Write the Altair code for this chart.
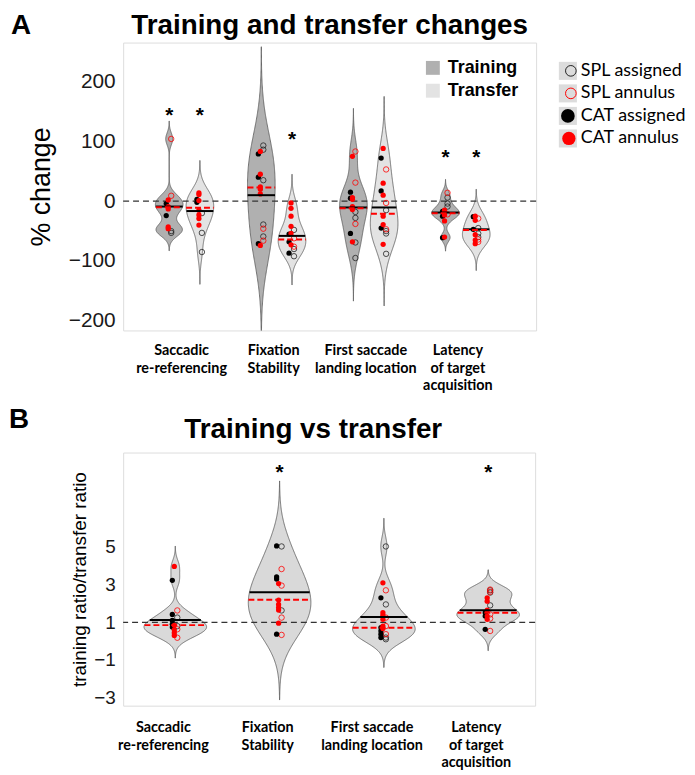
import altair as alt
import numpy as np
import pandas as pd

# ---------------- data ----------------
CATEGORIES = ["Saccadic\nre-referencing", "Fixation\nStability",
              "First saccade\nlanding location", "Latency\nof target\nacquisition"]
POINT_TYPES = ["SPL assigned", "SPL annulus", "CAT assigned", "CAT annulus"]

# Panel A: 8 violins (Training, Transfer) x 4 categories
A_KINDS = ["Training", "Transfer"] * 4
A_POS = [1, 2, 4, 5, 7, 8, 10, 11]
A_CENTERS = [1.5, 4.5, 7.5, 10.5]
A_SPL_ASSIGNED = [[-50, -53], [-20, -53, -85], [93, 86, 35, -39, -59], [-48, -80, -92],
                  [-18, -28, -69, -95], [-15, -50, -54, -88], [6, -4, -9], [-45, -54, -60]]
A_SPL_ANNULUS = [[104, 9], [], [-46, -66], [-62, -76],
                 [83, 31, -38], [53, -3, -47], [14, -22], [-29, -64, -68]]
A_CAT_ASSIGNED = [[-4, -24], [3, -2], [79, 40, -71], [-55, -68, -87],
                  [15, 5, -54], [72, 17, -45], [-17, -25, -61], [-26, -47]]
A_CAT_ANNULUS = [[2, -9, -13, -43, -46], [14, 11, 1, -15, -23, -29, -40],
                 [83, 45, 24, 20, 12, -74], [-3, -12, -25, -42, -54, -73],
                 [75, 6, 3, -9, -14, -68], [88, 30, 10, -25, -39, -72],
                 [-15, -19, -23, -33, -60], [-25, -32, -56, -65, -71]]
A_MEANS = [-9, -16.5, 10, -58, -10.5, -10.5, -19, -47]
A_MEDIANS = [-10, -11, 23, -64, -12, -21, -20, -48]
A_BANDWIDTH = [10, 18, 55, 16, 24, 29, 7.5, 15]   # kernel bandwidth of each violin
A_STAR_VIOLINS = [0, 1, 3, 6, 7]
A_STAR_Y = [146, 146, 106, 76, 76]
A_YTICKS = [-200, -100, 0, 100, 200]
A_REF = [0]

# Panel B: ratio training/transfer, 4 violins
B_KINDS = ["Ratio"] * 4
B_POS = [1, 2, 3, 4]
B_SPL_ASSIGNED = [[1.25, 0.8], [5.03, 1.63], [5.03, 1.95, 0.19, 0.1], [2.7, 2.58, 1.9]]
B_SPL_ANNULUS = [[1.63, 0.63, 0.18], [3.83, 2.95, 1.25, 0.33],
                 [2.7, 1.25, 0.8, 0.37], [2.74, 2.62, 1.42, 1.2, 0.54]]
B_CAT_ASSIGNED = [[3.23, 1.42, 1.1, 0.9, 0.75], [5.06, 3.41, 3.3, 0.37],
                  [2.3, 0.72, 0.54, 0.37, 0.19], [1.51, 1.33, 0.63]]
B_CAT_ANNULUS = [[3.97, 0.84, 0.6, 0.45, 0.3], [3.06, 2.18, 1.95, 1.78, 1.65, 0.95],
                 [3.1, 1.51, 1.37, 1.16, 0.8, 0.67], [2.3, 2.12, 1.65, 1.33, 1.16]]
B_MEANS = [1.12, 2.6, 1.28, 1.64]
B_MEDIANS = [0.85, 2.2, 0.71, 1.51]
B_BANDWIDTH = [0.36, 1.15, 0.5, 0.35]
B_STAR_VIOLINS = [1, 3]
B_STAR_Y = [9.04, 9.04]
B_YTICKS = [-3, -1, 1, 3, 5]
B_REF = [1]

FILLS = {"Training": "#b0b0b0", "Transfer": "#e3e3e3", "Ratio": "#d9d9d9"}


def kde(vals, bw):
    v = np.asarray(vals, dtype=float)
    grid = np.linspace(v.min() - 3 * bw, v.max() + 3 * bw, 260)
    f = np.exp(-0.5 * ((grid[:, None] - v[None, :]) / bw) ** 2).sum(axis=1)
    return grid, f / f.max()


def frames(pos, groups, means, medians, kinds, bws, W):
    vrows, prows, mrows = [], [], []
    for k, p in enumerate(pos):
        allv = []
        for t, lists in zip(POINT_TYPES, groups):
            for val in lists[k]:
                prows.append({"vid": k, "x": p, "v": val, "type": t})
                allv.append(val)
        grid, f = kde(allv, bws[k])
        for g, fv in zip(grid, f):
            vrows.append({"vid": k, "fillc": FILLS[kinds[k]], "v": g,
                          "xl": p - W * fv, "xr": p + W * fv})
        for stat, val in (("mean", means[k]), ("median", medians[k])):
            hw = W * float(np.interp(val, grid, f))
            mrows.append({"vid": k, "stat": stat, "v": val, "xl": p - hw, "xr": p + hw})
    return pd.DataFrame(vrows), pd.DataFrame(prows), pd.DataFrame(mrows)


def panel(pos, groups, means, medians, kinds, bws, W, xdom, ydom, yticks, ref,
          star_v, star_y, centers, Wpx, H, ytitle, yax, title, letter,
          title_y, title_dx, letter_x, letter_y, label_dx, label_y):
    vdf, pdf, mdf = frames(pos, groups, means, medians, kinds, bws, W)
    xs = alt.Scale(domain=xdom, nice=False, zero=False)
    ys = alt.Scale(domain=ydom, nice=False, zero=False)
    axis = alt.Axis(values=yticks, title=ytitle, ticks=False, domain=False, grid=False,
                    labelFontSize=yax["lfs"], labelPadding=8, labelColor="#1a1a1a",
                    labelFont="Liberation Sans", titleFont="Liberation Sans",
                    titleFontSize=yax["tfs"], titleFontWeight="normal", titleColor="black",
                    titleX=yax["tx"], titleY=H / 2, titleAngle=270,
                    titleBaseline="middle", titleAlign="center")
    vio = alt.Chart(vdf).mark_area(orient="horizontal", stroke="#5a5a5a",
                                   strokeWidth=0.8, clip=True, opacity=1).encode(
        y=alt.Y("v:Q", scale=ys, axis=axis),
        x=alt.X("xl:Q", scale=xs, axis=None, stack=None),
        x2="xr:Q",
        fill=alt.Fill("fillc:N", scale=None, legend=None),
        detail="vid:N")
    zero = alt.Chart(pd.DataFrame({"v": ref})).mark_rule(
        color="#333333", strokeWidth=1.2, strokeDash=[6, 4]).encode(
        y=alt.Y("v:Q", scale=ys))
    layers = [vio, zero]
    pstyles = {
        "SPL assigned": dict(type="point", shape="circle", filled=False, stroke="#222222",
                             strokeWidth=0.8, size=30, xOffset=2, opacity=1),
        "SPL annulus": dict(type="point", shape="circle", filled=False, stroke="#ff0000",
                            strokeWidth=0.8, size=30, xOffset=2, opacity=1),
        "CAT assigned": dict(type="circle", color="black", size=28, xOffset=-3, opacity=1),
        "CAT annulus": dict(type="circle", color="#ff0000", size=28, xOffset=-1, opacity=1),
    }
    for t in POINT_TYPES:
        layers.append(alt.Chart(pdf[pdf["type"] == t], mark=alt.MarkDef(**pstyles[t])).encode(
            x=alt.X("x:Q", scale=xs), y=alt.Y("v:Q", scale=ys)))
    layers.append(alt.Chart(mdf[mdf["stat"] == "mean"]).mark_rule(
        color="black", strokeWidth=2).encode(
        y=alt.Y("v:Q", scale=ys), x=alt.X("xl:Q", scale=xs), x2="xr:Q"))
    layers.append(alt.Chart(mdf[mdf["stat"] == "median"]).mark_rule(
        color="#ff0000", strokeWidth=2, strokeDash=[6, 3]).encode(
        y=alt.Y("v:Q", scale=ys), x=alt.X("xl:Q", scale=xs), x2="xr:Q"))
    sdf = pd.DataFrame({"x": [pos[i] for i in star_v], "v": star_y})
    layers.append(alt.Chart(sdf).mark_text(text="*", fontSize=21, fontWeight="bold",
                                           font="Liberation Sans", dy=2, color="black").encode(
        x=alt.X("x:Q", scale=xs), y=alt.Y("v:Q", scale=ys)))
    ldf = pd.DataFrame({"cat": CATEGORIES, "x": centers})
    layers.append(alt.Chart(ldf).mark_text(lineBreak="\n", baseline="top", align="center",
                                           font="Lato", fontWeight="bold", fontSize=14.5,
                                           lineHeight=17.5, dx=label_dx, color="black").encode(
        x=alt.X("x:Q", scale=xs), y=alt.value(label_y), text="cat:N"))
    layers.append(alt.Chart(pd.DataFrame({"t": [title]})).mark_text(
        font="Liberation Sans", fontWeight="bold", fontSize=28, baseline="alphabetic",
        align="center", dx=title_dx, color="black").encode(
        x=alt.value(Wpx / 2), y=alt.value(title_y), text="t:N"))
    layers.append(alt.Chart(pd.DataFrame({"t": [letter]})).mark_text(
        font="Liberation Sans", fontWeight="bold", fontSize=28, baseline="alphabetic",
        align="left", color="black").encode(
        x=alt.value(letter_x), y=alt.value(letter_y), text="t:N"))
    return layers


WA, HA = 416, 290
layersA = panel(A_POS, [A_SPL_ASSIGNED, A_SPL_ANNULUS, A_CAT_ASSIGNED, A_CAT_ANNULUS],
                A_MEANS, A_MEDIANS, A_KINDS, A_BANDWIDTH, 0.45, [-0.5, 12.95], [-216, 265],
                A_YTICKS, A_REF, A_STAR_VIOLINS, A_STAR_Y, A_CENTERS, WA, HA, "% change",
                {"lfs": 21, "tfs": 27, "tx": -82},
                "Training and transfer changes", "A", -9, 0, -113, -9, -3, HA + 14)

# legends of panel A
for i, kind in enumerate(["Training", "Transfer"]):
    d = pd.DataFrame({"t": [kind]})
    yy = 25.5 + i * 23
    layersA.append(alt.Chart(d).mark_square(size=196, color=FILLS[kind], opacity=1).encode(
        x=alt.value(312), y=alt.value(yy)))
    layersA.append(alt.Chart(d).mark_text(font="Liberation Sans", fontWeight="bold", fontSize=18,
                                          align="left", baseline="middle", color="black").encode(
        x=alt.value(327), y=alt.value(yy), text="t:N"))

leg_marks = {
    "SPL assigned": dict(type="point", shape="circle", filled=False, stroke="#222222",
                         strokeWidth=1, size=115, opacity=1, xOffset=3),
    "SPL annulus": dict(type="point", shape="circle", filled=False, stroke="#ff0000",
                        strokeWidth=1, size=115, opacity=1, xOffset=3),
    "CAT assigned": dict(type="circle", color="black", size=190, opacity=1),
    "CAT annulus": dict(type="circle", color="#ff0000", size=180, opacity=1, xOffset=1),
}
for i, t in enumerate(POINT_TYPES):
    d = pd.DataFrame({"t": [t]})
    yy = 28.5 + i * 22.7
    layersA.append(alt.Chart(d).mark_square(size=330, color="#dcdcdc", opacity=1).encode(
        x=alt.value(448), y=alt.value(yy)))
    layersA.append(alt.Chart(d, mark=alt.MarkDef(**leg_marks[t])).encode(
        x=alt.value(448), y=alt.value(yy)))
    layersA.append(alt.Chart(d).mark_text(font="Lato", fontSize=18, align="left",
                                          baseline="middle", color="black").encode(
        x=alt.value(461), y=alt.value(yy), text="t:N"))

chartA = alt.layer(*layersA).properties(width=WA, height=HA)

WB, HB = 415, 255
layersB = panel(B_POS, [B_SPL_ASSIGNED, B_SPL_ANNULUS, B_CAT_ASSIGNED, B_CAT_ANNULUS],
                B_MEANS, B_MEDIANS, B_KINDS, B_BANDWIDTH, 0.3, [0.5, 4.45], [-3.43, 10.02],
                B_YTICKS, B_REF, B_STAR_VIOLINS, B_STAR_Y, B_POS, WB, HB,
                "training ratio/transfer ratio", {"lfs": 19, "tfs": 19, "tx": -44},
                "Training vs transfer", "B", -15, -16, -115, -25, -12, HB + 16)
chartB = alt.layer(*layersB).properties(width=WB, height=HB)

chart = alt.vconcat(chartA, chartB, spacing=12).configure_view(
    stroke="#9c9c9c", strokeWidth=1).configure(font="Liberation Sans").properties(
    padding={"left": 0, "top": 0, "right": 0, "bottom": 0})

chart.save("out.html", embed_options={"renderer": "svg", "actions": False})
